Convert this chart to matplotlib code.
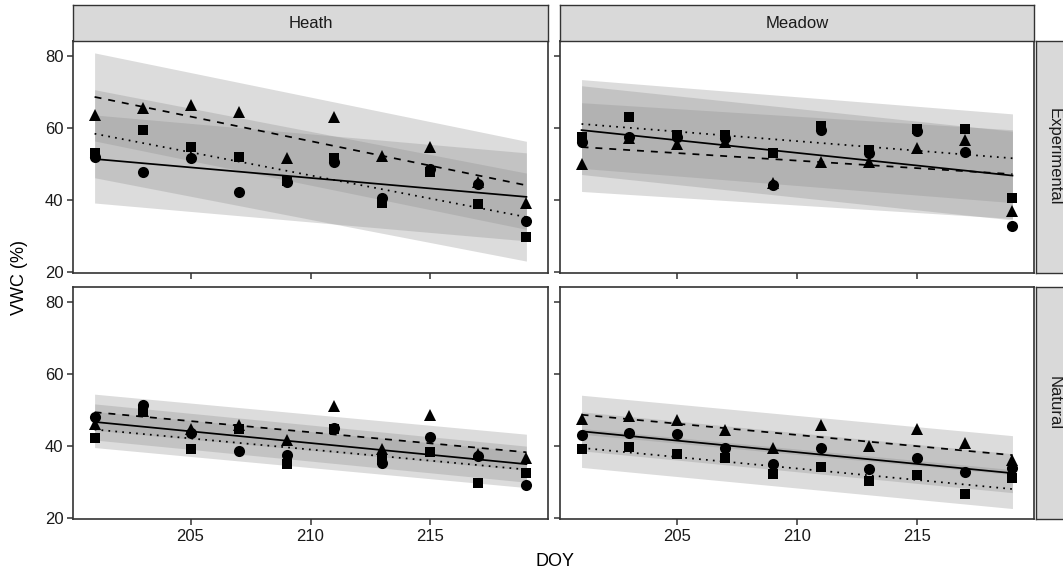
import matplotlib
matplotlib.use("Agg")
import matplotlib.pyplot as plt
import numpy as np

plt.rcParams['font.family'] = ['Liberation Sans', 'DejaVu Sans']

# sampling days
doy = [201, 203, 205, 207, 209, 211, 213, 215, 217, 219]

# Heath - Experimental
he_circle = [51.9, 47.7, 51.6, 42.2, 44.9, 50.7, 40.6, 48.6, 44.6, 34.2]
he_square = [53.0, 59.4, 54.8, 51.9, 45.2, 51.6, 39.2, 47.7, 38.8, 29.9]
he_triangle = [63.5, 65.5, 66.3, 64.4, 51.6, 63.1, 52.1, 54.8, 44.9, 39.2]
# Meadow - Experimental
me_circle = [56.2, 57.6, 57.6, 57.1, 44.1, 59.4, 53.0, 59.2, 53.3, 32.7]
me_square = [57.6, 62.9, 58.0, 58.0, 53.0, 60.5, 53.9, 59.6, 59.6, 40.6]
me_triangle = [50.1, 57.1, 55.5, 56.2, 44.7, 50.7, 50.7, 54.4, 56.6, 37.0]
# Heath - Natural
hn_circle = [48.0, 51.3, 43.5, 38.6, 37.5, 45.0, 35.2, 42.6, 37.3, 29.3]
hn_square = [42.3, 49.6, 39.2, 44.8, 35.0, 44.7, 36.2, 38.4, 29.8, 32.5]
hn_triangle = [46.2, 49.8, 44.8, 45.8, 41.6, 51.0, 39.3, 48.5, 37.8, 36.6]
# Meadow - Natural
mn_circle = [43.0, 43.7, 43.3, 39.6, 35.1, 39.5, 33.7, 36.6, 32.8, 33.9]
mn_square = [39.1, 39.8, 37.7, 36.6, 32.2, 34.3, 30.2, 32.1, 26.8, 31.1]
mn_triangle = [47.6, 48.3, 47.1, 44.4, 39.4, 45.9, 40.0, 44.7, 40.9, 36.2]

# fitted values at first and last DOY (circle, square, triangle)
fit_days = [201, 219]
he_fit = [[51.4, 40.9], [58.4, 35.3], [68.6, 44.1]]
me_fit = [[59.4, 46.8], [61.1, 51.6], [54.7, 47.2]]
hn_fit = [[46.7, 35.0], [44.6, 33.5], [49.4, 38.3]]
mn_fit = [[44.1, 32.5], [39.5, 28.1], [48.7, 37.5]]
# ribbon half widths
he_band = 12.2
me_band = 12.3
hn_band = 5.0
mn_band = 5.4

columns = ["Heath", "Meadow"]
rows = ["Experimental", "Natural"]

panels = {
    (0, 0): ([he_circle, he_square, he_triangle], he_fit, he_band),
    (0, 1): ([me_circle, me_square, me_triangle], me_fit, me_band),
    (1, 0): ([hn_circle, hn_square, hn_triangle], hn_fit, hn_band),
    (1, 1): ([mn_circle, mn_square, mn_triangle], mn_fit, mn_band),
}

markers = ['o', 's', '^']
msizes = [8, 7.5, 9]
lstyles = ['-', (0, (1, 3)), (0, (4, 4))]

W, H = 1063, 575
fig = plt.figure(figsize=(W / 100, H / 100), dpi=100)

col_x = [(73, 548), (560, 1034)]
row_y = [(41, 273), (287, 519)]
edge = '#333333'

def fx(px):
    return px / W

def fy(py):
    return 1 - py / H

for (r, c), (series, fits, band) in panels.items():
    x0, x1 = col_x[c]
    y0, y1 = row_y[r]
    ax = fig.add_axes([fx(x0), fy(y1), fx(x1 - x0), (y1 - y0) / H])
    for fit in fits:
        fit = np.array(fit)
        ax.fill_between(fit_days, fit - band, fit + band, color='#8c8c8c',
                        alpha=0.3, linewidth=0)
    for vals, fit, m, ms, ls in zip(series, fits, markers, msizes, lstyles):
        ax.plot(fit_days, fit, color='black', linestyle=ls, linewidth=1.25)
        ax.plot(doy, vals, linestyle='none', marker=m, markersize=ms,
                color='black', markeredgewidth=0)
    ax.set_xlim(200.1, 219.9)
    ax.set_ylim(19.8, 84.1)
    ax.set_yticks([20, 40, 60, 80])
    ax.set_xticks([205, 210, 215])
    for s in ax.spines.values():
        s.set_color(edge)
        s.set_linewidth(1.2)
    ax.tick_params(length=4, width=1.1, color=edge, labelsize=12,
                   labelcolor='#1a1a1a', pad=3)
    if c == 1:
        ax.tick_params(labelleft=False)
    if r == 0:
        ax.tick_params(labelbottom=False)

# column strips
for c, name in enumerate(columns):
    x0, x1 = col_x[c]
    sax = fig.add_axes([fx(x0), fy(41), fx(x1 - x0), 36 / H])
    sax.set_facecolor('#d9d9d9')
    sax.set_xticks([])
    sax.set_yticks([])
    for s in sax.spines.values():
        s.set_color(edge)
        s.set_linewidth(1.0)
    sax.text(0.5, 0.5, name, ha='center', va='center', fontsize=12,
             color='#1a1a1a', transform=sax.transAxes)

# row strips
for r, name in enumerate(rows):
    y0, y1 = row_y[r]
    sax = fig.add_axes([fx(1036), fy(y1), fx(36), (y1 - y0) / H])
    sax.set_facecolor('#d9d9d9')
    sax.set_xticks([])
    sax.set_yticks([])
    for s in sax.spines.values():
        s.set_color(edge)
        s.set_linewidth(1.0)
    sax.text(0.5, 0.5, name, ha='center', va='center', fontsize=12,
             rotation=-90, color='#1a1a1a', transform=sax.transAxes)

fig.text(fx(555), fy(562), "DOY", ha='center', va='center', fontsize=13)
fig.text(fx(20), fy(277), "VWC (%)", ha='center', va='center', fontsize=13,
         rotation=90)

fig.savefig("out.png", dpi=100)
